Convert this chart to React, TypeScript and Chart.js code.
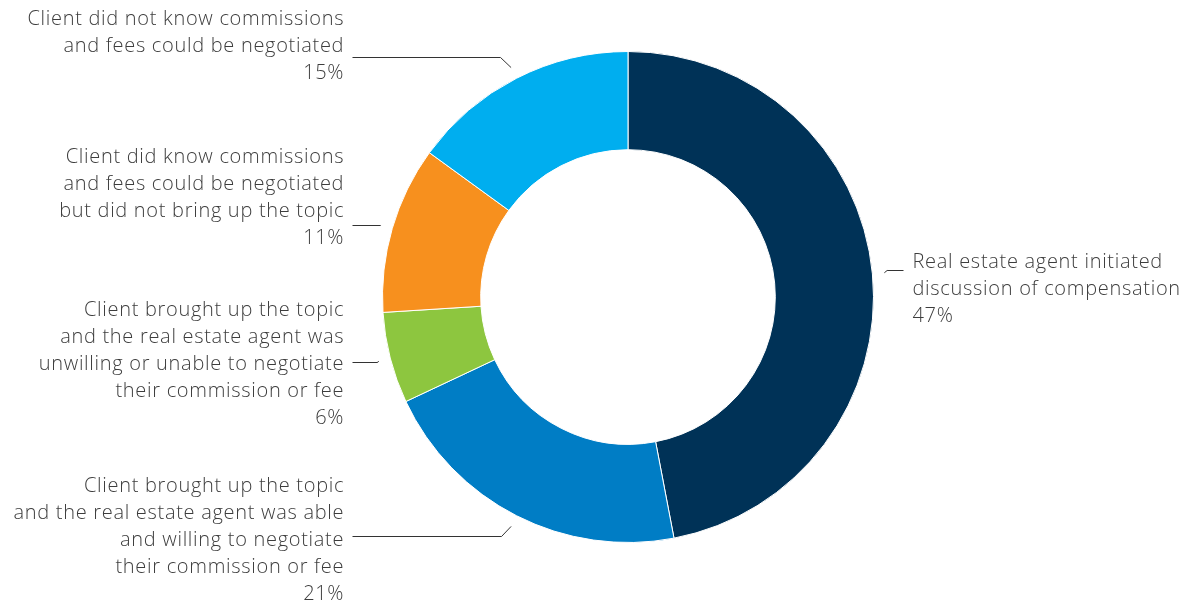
import React, { useEffect, useRef } from "react";
import { Chart, registerables } from "chart.js";

Chart.register(...registerables);

const categories: string[][] = [
  ["Real estate agent initiated", "discussion of compensation"],
  ["Client brought up the topic", "and the real estate agent was able", "and willing to negotiate", "their commission or fee"],
  ["Client brought up the topic", "and the real estate agent was", "unwilling or unable to negotiate", "their commission or fee"],
  ["Client did know commissions", "and fees could be negotiated", "but did not bring up the topic"],
  ["Client did not know commissions", "and fees could be negotiated"],
];
const values: number[] = [47, 21, 6, 11, 15];
const colors: string[] = ["#003257", "#007DC5", "#8DC63F", "#F7901E", "#00AEEF"];

// label layout (connector y and first text line y)
const labelAnchorY: number[] = [270, 536, 362, 225, 57];
const labelFirstLineY: number[] = [262, 486, 310, 157, 19];

const FONT = '300 20px "Open Sans", Lato, sans-serif';
const LINE_H = 27;

const labelPlugin = {
  id: "outsideLabels",
  afterDraw(chart: any) {
    const ctx = chart.ctx;
    const meta = chart.getDatasetMeta(0);
    ctx.save();
    ctx.font = FONT;
    ctx.textBaseline = "middle";
    meta.data.forEach((arc: any, i: number) => {
      const { x, y, startAngle, endAngle, outerRadius } = arc.getProps(
        ["x", "y", "startAngle", "endAngle", "outerRadius"],
        true
      );
      const mid = (startAngle + endAngle) / 2;
      const r = outerRadius + 12;
      const px = x + Math.cos(mid) * r;
      const py = y + Math.sin(mid) * r;
      const right = Math.cos(mid) >= 0;
      const dir = right ? 1 : -1;
      const ay = labelAnchorY[i];
      const ex = px + dir * Math.abs(ay - py);
      const lineEndX = right ? x + outerRadius + 30 : x - outerRadius - 30;
      ctx.strokeStyle = "#333333";
      ctx.lineWidth = 1;
      ctx.beginPath();
      ctx.moveTo(px, py);
      ctx.lineTo(ex, ay + 0.5);
      ctx.lineTo(lineEndX, ay + 0.5);
      ctx.stroke();

      ctx.textAlign = right ? "left" : "right";
      ctx.fillStyle = "#3d3d3d";
      (ctx as any).letterSpacing = "0.7px";
      const textX = right ? lineEndX + 9 : lineEndX - 9 + 0.7;
      const lines = [...categories[i], `${values[i]}%`];
      lines.forEach((ln, k) => {
        ctx.fillText(ln, textX, labelFirstLineY[i] + k * LINE_H);
      });
      (ctx as any).letterSpacing = "0px";
    });
    ctx.restore();
  },
};

export default function App() {
  const ref = useRef<HTMLCanvasElement>(null);
  useEffect(() => {
    if (!ref.current) return;
    const chart = new Chart(ref.current, {
      type: "doughnut",
      data: {
        labels: categories.map((c) => c.join(" ")),
        datasets: [
          {
            data: values,
            backgroundColor: colors,
            borderColor: "#ffffff",
            borderWidth: 1,
          },
        ],
      },
      options: {
        responsive: false,
        animation: false,
        cutout: "60%",
        layout: { padding: { left: 382, right: 311, top: 51, bottom: 63 } },
        plugins: {
          legend: { display: false },
          tooltip: { enabled: false },
        },
      },
      plugins: [labelPlugin],
    });
    return () => chart.destroy();
  }, []);
  return (
    <div style={{ position: "absolute", left: 0, top: 0, width: 1185, height: 606, background: "#fff" }}>
      <canvas ref={ref} width={1185} height={606} />
    </div>
  );
}
